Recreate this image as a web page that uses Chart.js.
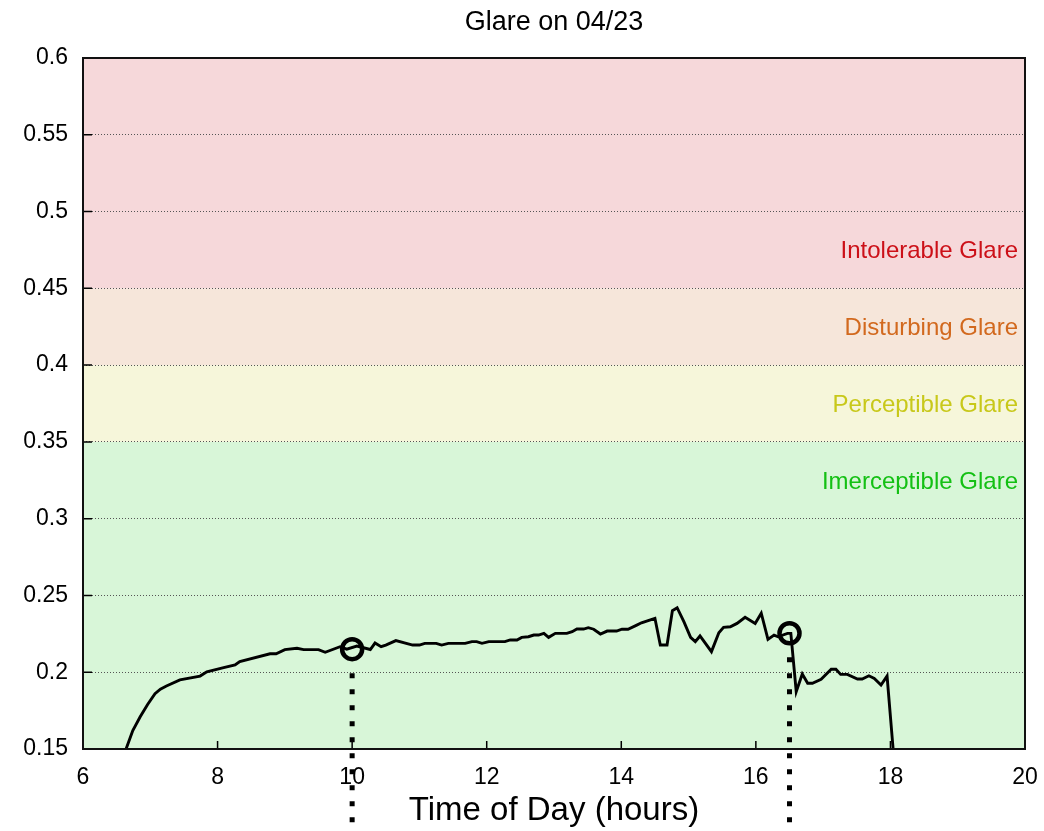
<!DOCTYPE html>
<html>
<head>
<meta charset="utf-8">
<script src="https://cdn.jsdelivr.net/npm/chart.js@4/dist/chart.umd.min.js"></script>
<style>
  html, body { margin: 0; padding: 0; background: #ffffff; }
  #wrap { width: 1044px; height: 831px; }
</style>
</head>
<body>
<div id="wrap"><canvas id="c" width="1044" height="831"></canvas></div>
<script>
// ---- data ----
const chartTitle = 'Glare on 04/23';
const xAxisTitle = 'Time of Day (hours)';
const xTickLabels = ['6', '8', '10', '12', '14', '16', '18', '20'];
const yTickLabels = ['0.15', '0.2', '0.25', '0.3', '0.35', '0.4', '0.45', '0.5', '0.55', '0.6'];

const hours = [6.64, 6.74, 6.85, 6.96, 7.07, 7.15, 7.24, 7.44, 7.74, 7.84, 8.09, 8.26, 8.33, 8.78, 8.87,
  9.0, 9.18, 9.28, 9.5, 9.6, 9.82, 9.92, 10.07, 10.27, 10.34, 10.43, 10.5, 10.65, 10.9, 11.0, 11.08,
  11.25, 11.33, 11.43, 11.68, 11.78, 11.85, 11.93, 12.03, 12.27, 12.35, 12.45, 12.52, 12.62, 12.7,
  12.77, 12.85, 12.92, 13.02, 13.19, 13.27, 13.34, 13.44, 13.51, 13.59, 13.69, 13.79, 13.93, 14.01,
  14.1, 14.23, 14.3, 14.5, 14.58, 14.68, 14.76, 14.83, 14.93, 15.03, 15.1, 15.17, 15.34, 15.45, 15.52,
  15.62, 15.72, 15.84, 15.99, 16.08, 16.18, 16.27, 16.33, 16.47, 16.52, 16.6, 16.69, 16.77, 16.84,
  16.97, 17.12, 17.19, 17.26, 17.36, 17.51, 17.58, 17.68, 17.76, 17.86, 17.95, 18.04, 18.1];
const glare = [0.150, 0.162, 0.171, 0.179, 0.186, 0.189, 0.191, 0.195, 0.1975, 0.2003, 0.203, 0.2047, 0.207, 0.212, 0.212,
  0.2147, 0.2156, 0.2147, 0.2147, 0.213, 0.2166, 0.215, 0.217, 0.2148, 0.219, 0.2166, 0.2177, 0.2206, 0.2177, 0.2177, 0.2188,
  0.2188, 0.2177, 0.2188, 0.2188, 0.2199, 0.2199, 0.2188, 0.2199, 0.2199, 0.221, 0.221, 0.2227, 0.2231, 0.2242,
  0.2242, 0.2253, 0.2227, 0.2253, 0.2253, 0.2264, 0.2281, 0.2281, 0.229, 0.228, 0.2249, 0.2268, 0.2268, 0.228,
  0.228, 0.2307, 0.2322, 0.2351, 0.2177, 0.2177, 0.2401, 0.242, 0.2329, 0.2227, 0.2199, 0.2236, 0.2134, 0.2257, 0.2292,
  0.2296, 0.2318, 0.2358, 0.2318, 0.2384, 0.2214, 0.2242, 0.2231, 0.2253, 0.2253, 0.1873, 0.1988, 0.1928, 0.1928,
  0.1954, 0.2019, 0.2019, 0.1986, 0.1986, 0.1956, 0.1956, 0.1977, 0.196, 0.1917, 0.1975, 0.150, 0.149];

const markerHours = [10, 16.5];
const markerGlare = [0.215, 0.2254];

const bandLow = [0.15, 0.35, 0.40, 0.45];
const bandHigh = [0.35, 0.40, 0.45, 0.60];
const bandNames = ['Imerceptible Glare', 'Perceptible Glare', 'Disturbing Glare', 'Intolerable Glare'];
const bandLabelAt = [0.325, 0.375, 0.425, 0.475];
const bandFill = ['#d8f6d8', '#f6f6da', '#f6e6da', '#f6d8da'];
const bandText = ['#14c014', '#c8c81a', '#d2691e', '#cc1018'];

const FONT = '"Liberation Sans", Arial, Helvetica, sans-serif';

// ---- plugins ----
const bandsPlugin = {
  id: 'bands',
  beforeDraw(chart) {
    const { ctx, chartArea: a, scales: { y } } = chart;
    ctx.save();
    for (let i = 0; i < bandLow.length; i++) {
      const top = y.getPixelForValue(bandHigh[i]);
      const bot = y.getPixelForValue(bandLow[i]);
      ctx.fillStyle = bandFill[i];
      ctx.fillRect(a.left, top, a.right - a.left, bot - top);
    }
    ctx.restore();
  }
};

const decorPlugin = {
  id: 'decor',
  beforeDatasetsDraw(chart) {
    const { ctx, chartArea: a, scales: { y } } = chart;
    ctx.save();
    ctx.font = '24px ' + FONT;
    ctx.textAlign = 'right';
    ctx.textBaseline = 'alphabetic';
    for (let i = 0; i < bandNames.length; i++) {
      ctx.fillStyle = bandText[i];
      ctx.fillText(bandNames[i], a.right - 7, y.getPixelForValue(bandLabelAt[i]) + 8.5);
    }
    ctx.restore();
  },
  afterDatasetsDraw(chart) {
    const { ctx, chartArea: a, scales: { x, y } } = chart;
    ctx.save();
    // inward tick marks
    ctx.strokeStyle = '#000';
    ctx.lineWidth = 1.5;
    ctx.beginPath();
    x.ticks.forEach(t => {
      const px = x.getPixelForValue(t.value);
      ctx.moveTo(px, a.bottom);
      ctx.lineTo(px, a.bottom - 8);
    });
    y.ticks.forEach(t => {
      const py = y.getPixelForValue(t.value);
      ctx.moveTo(a.left, py);
      ctx.lineTo(a.left + 9, py);
    });
    ctx.stroke();
    // frame
    ctx.lineWidth = 2;
    ctx.strokeStyle = '#111';
    ctx.strokeRect(a.left, a.top, a.right - a.left, a.bottom - a.top);
    // dotted drop lines from markers
    ctx.strokeStyle = '#000';
    ctx.lineWidth = 5;
    ctx.setLineDash([5, 11]);
    ctx.lineDashOffset = 5;
    for (let i = 0; i < markerHours.length; i++) {
      const px = x.getPixelForValue(markerHours[i]);
      const py = y.getPixelForValue(markerGlare[i]) + 13;
      ctx.beginPath();
      ctx.moveTo(px, py);
      ctx.lineTo(px, chart.height);
      ctx.stroke();
    }
    ctx.setLineDash([]);
    // title centred over plot area
    ctx.fillStyle = '#000';
    ctx.font = '27px ' + FONT;
    ctx.textAlign = 'center';
    ctx.textBaseline = 'alphabetic';
    ctx.fillText(chartTitle, (a.left + a.right) / 2, 30);
    ctx.restore();
  }
};

// ---- chart ----
new Chart(document.getElementById('c'), {
  type: 'line',
  data: {
    datasets: [
      {
        label: 'Glare',
        data: hours.map((h, i) => ({ x: h, y: glare[i] })),
        borderColor: '#000',
        borderWidth: 2.9,
        pointRadius: 0,
        tension: 0,
        fill: false
      },
      {
        label: 'Markers',
        data: markerHours.map((h, i) => ({ x: h, y: markerGlare[i] })),
        showLine: false,
        pointRadius: 10,
        pointBorderWidth: 4.5,
        pointBorderColor: '#000',
        pointBackgroundColor: 'rgba(0,0,0,0)',
        pointHoverRadius: 10
      }
    ]
  },
  options: {
    responsive: false,
    animation: false,
    devicePixelRatio: 1,
    layout: { padding: { top: 58, right: 19, left: 0, bottom: 0 } },
    plugins: { legend: { display: false }, title: { display: false }, tooltip: { enabled: false } },
    scales: {
      x: {
        type: 'linear',
        min: 6, max: 20,
        ticks: {
          stepSize: 2,
          padding: 15,
          color: '#000',
          maxRotation: 0,
          font: { family: FONT, size: 23 },
          callback: (v, i) => xTickLabels[i]
        },
        grid: { display: false, drawTicks: false },
        border: { display: false },
        title: {
          display: true,
          text: xAxisTitle,
          color: '#000',
          font: { family: FONT, size: 33 },
          padding: { top: 0, bottom: 0 }
        },
        afterFit: s => { s.height = 82; s.paddingLeft = 0; s.paddingRight = 0; }
      },
      y: {
        type: 'linear',
        min: 0.15, max: 0.6,
        ticks: {
          stepSize: 0.05,
          padding: 15,
          color: '#000',
          font: { family: FONT, size: 23 },
          callback: (v, i) => yTickLabels[i]
        },
        grid: { display: true, drawTicks: false, color: '#555', lineWidth: 1 },
        border: { display: false, dash: [1, 2] },
        afterFit: s => { s.width = 83; s.paddingTop = 0; s.paddingBottom = 0; }
      }
    }
  },
  plugins: [bandsPlugin, decorPlugin]
});
</script>
</body>
</html>
